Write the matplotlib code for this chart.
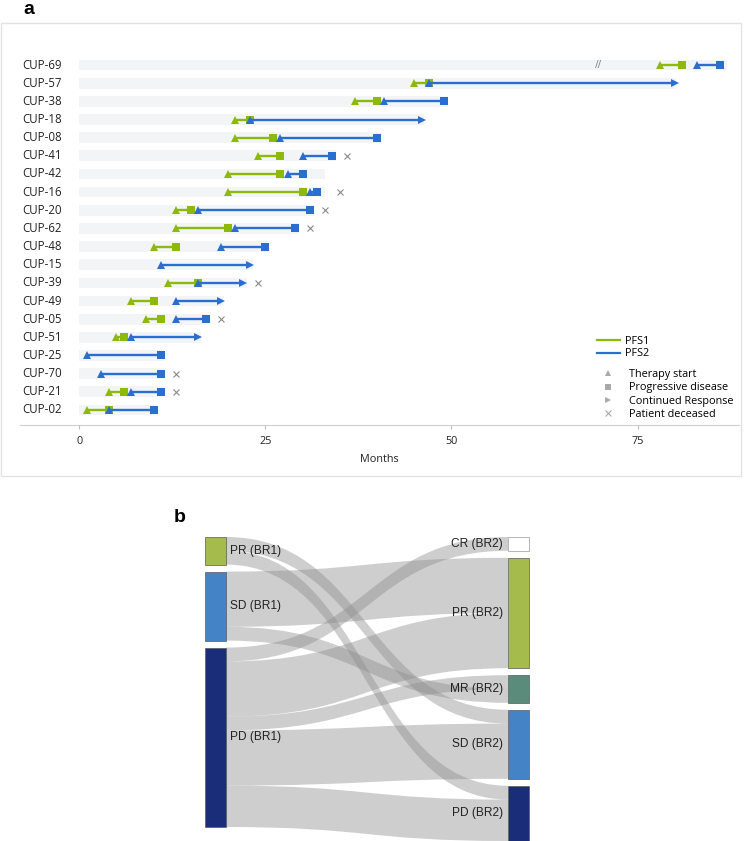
import numpy as np
import matplotlib
matplotlib.use("Agg")
import matplotlib.pyplot as plt
from matplotlib.patches import Rectangle, PathPatch
from matplotlib.path import Path
from matplotlib.lines import Line2D
import matplotlib.transforms as mtransforms

nan = np.nan
# ---------------- Panel a data ----------------
patients = ['CUP-69', 'CUP-57', 'CUP-38', 'CUP-18', 'CUP-08', 'CUP-41', 'CUP-42', 'CUP-16',
            'CUP-20', 'CUP-62', 'CUP-48', 'CUP-15', 'CUP-39', 'CUP-49', 'CUP-05', 'CUP-51',
            'CUP-25', 'CUP-70', 'CUP-21', 'CUP-02']
pfs1_start = [78, 45, 37, 21, 21, 24, 20, 20, 13, 13, 10, nan, 12, 7, 9, 5, nan, nan, 4, 1]
pfs1_end = [81, 47, 40, 23, 26, 27, 27, 30, 15, 20, 13, nan, 16, 10, 11, 6, nan, nan, 6, 4]
pfs2_start = [83, 47, 41, 23, 27, 30, 28, 31, 16, 21, 19, 11, 16, 13, 13, 7, 1, 3, 7, 4]
pfs2_end = [86, 80, 49, 46, 40, 34, 30, 32, 31, 29, 25, 23, 22, 19, 17, 16, 11, 11, 11, 10]
pfs2_ongoing = [False, True, False, True, False, False, False, False, False, False, False,
                True, True, True, False, True, False, False, False, False]
deceased = [nan, nan, nan, nan, nan, 36, nan, 35, 33, 31, nan, nan, 24, nan, 19, nan, nan, 13, 13, nan]
followup = [87, 80.2, 49.5, 46.3, 40.5, 34.5, 33, 33, 31.5, 29.5, 25.4, 23.4, 22.6, 19.4,
            17.5, 16.4, 11.4, 11.4, 11.4, 10.5]
xticks = [0, 25, 50, 75]
axis_break_at = 69.7

# ---------------- Panel b data ----------------
left_nodes = ['PR (BR1)', 'SD (BR1)', 'PD (BR1)']
right_nodes = ['CR (BR2)', 'PR (BR2)', 'MR (BR2)', 'SD (BR2)', 'PD (BR2)']
flow_src = ['PR (BR1)', 'PR (BR1)', 'SD (BR1)', 'SD (BR1)', 'PD (BR1)', 'PD (BR1)', 'PD (BR1)', 'PD (BR1)', 'PD (BR1)']
flow_tgt = ['SD (BR2)', 'PD (BR2)', 'PR (BR2)', 'MR (BR2)', 'CR (BR2)', 'PR (BR2)', 'MR (BR2)', 'SD (BR2)', 'PD (BR2)']
flow_val = [1, 1, 4, 1, 1, 4, 1, 4, 3]
target_stack_override = {'MR (BR2)': ['PD (BR1)', 'SD (BR1)']}

# ---------------- styles ----------------
GREEN = '#8dba0a'
BLUE = '#2a6fd0'
W, H = 749, 841
fig = plt.figure(figsize=(W / 100, H / 100), dpi=100)
FONT = ['Open Sans', 'DejaVu Sans']
FS = 7.8

# frame around panel a
fig.patches.append(Rectangle((1 / W, 1 - 476 / H), 740 / W, (476 - 23) / H,
                             transform=fig.transFigure, fill=False, ec='#e2e2e2', lw=1.0))
fig.text(23 / W, 1 - 10 / H, 'a', fontsize=14, fontweight='bold', va='center', ha='left',
         family=['Liberation Sans', 'DejaVu Sans'])
fig.text(174 / W, 1 - 517 / H, 'b', fontsize=14, fontweight='bold', va='center', ha='left',
         family=['Liberation Sans', 'DejaVu Sans'])

ax = fig.add_axes([20 / W, (H - 425) / H, 719 / W, (425 - 50) / H])
n = len(patients)
ax.set_xlim(-7.93, 88.6)
ax.set_ylim(-0.83, n - 1 + 0.83)
ypos = [n - 1 - i for i in range(n)]

ax.barh(ypos, followup, left=0, height=0.59, color='#f3f4f6', zorder=1)

for i, y in enumerate(ypos):
    if not np.isnan(pfs1_start[i]):
        ax.plot([pfs1_start[i], pfs1_end[i]], [y, y], color=GREEN, lw=1.7, zorder=3,
                solid_capstyle='butt')
        ax.plot([pfs1_start[i]], [y], marker='^', color=GREEN, ms=6, zorder=4, mew=0)
        ax.plot([pfs1_end[i]], [y], marker='s', color=GREEN, ms=5.3, zorder=4, mew=0)
    ax.plot([pfs2_start[i], pfs2_end[i]], [y, y], color=BLUE, lw=1.7, zorder=5,
            solid_capstyle='butt')
    ax.plot([pfs2_start[i]], [y], marker='^', color=BLUE, ms=6, zorder=6, mew=0)
    if pfs2_ongoing[i]:
        ax.plot([pfs2_end[i]], [y], marker='>', color=BLUE, ms=5.3, zorder=6, mew=0)
    else:
        ax.plot([pfs2_end[i]], [y], marker='s', color=BLUE, ms=5.3, zorder=6, mew=0)
    if not np.isnan(deceased[i]):
        ax.plot([deceased[i]], [y], marker='x', color='#8a8a8a', ms=5, mew=0.8, zorder=6)

ax.text(axis_break_at, ypos[0], '//', color='#777777', fontsize=7, ha='center', va='center',
        family=FONT, zorder=7)

trans = mtransforms.blended_transform_factory(ax.transAxes, ax.transData)
for name, y in zip(patients, ypos):
    ax.text(2.0 / 719, y, name, transform=trans, ha='left', va='center', fontsize=8.3,
            family=FONT, color='#222222')

ax.set_yticks([])
for s in ['top', 'right', 'left']:
    ax.spines[s].set_visible(False)
ax.spines['bottom'].set_color('#cfcfcf')
ax.set_xticks(xticks)
ax.set_xticklabels([str(t) for t in xticks], family=FONT, fontsize=FS, color='#222222')
ax.tick_params(axis='x', colors='#bbbbbb', length=3, width=0.8, pad=5, labelcolor='#222222')
ax.set_xlabel('Months', family=FONT, fontsize=FS, color='#222222', labelpad=5)

h1 = [Line2D([], [], color=GREEN, lw=1.6, label='PFS1'),
      Line2D([], [], color=BLUE, lw=1.6, label='PFS2')]
leg1 = ax.legend(handles=h1, loc='upper left', bbox_to_anchor=(597 / W, 1 - 336 / H),
                 bbox_transform=fig.transFigure, frameon=False, prop={'family': FONT, 'size': FS},
                 handlelength=2.1, handletextpad=0.5, labelspacing=0.12, borderpad=0,
                 borderaxespad=0)
ax.add_artist(leg1)
GR = '#a9a9a9'
h2 = [Line2D([], [], ls='none', marker='^', color=GR, ms=5, mew=0, label='Therapy start'),
      Line2D([], [], ls='none', marker='s', color=GR, ms=4.5, mew=0, label='Progressive disease'),
      Line2D([], [], ls='none', marker='>', color=GR, ms=4.5, mew=0, label='Continued Response'),
      Line2D([], [], ls='none', marker='x', color=GR, ms=5, mew=0.8, label='Patient deceased')]
ax.legend(handles=h2, loc='upper left', bbox_to_anchor=(603 / W, 1 - 369 / H),
          bbox_transform=fig.transFigure, frameon=False, prop={'family': FONT, 'size': FS},
          handlelength=1.0, handletextpad=1.4, labelspacing=0.22, borderpad=0, borderaxespad=0)

# ---------------- Panel b: Sankey ----------------
bx = fig.add_axes([200 / W, 0, 334 / W, (841 - 532) / H])
bx.set_xlim(200, 534)
bx.set_ylim(841, 532)
bx.axis('off')

unit = 13.8
gap = 7.0
top = 537.0
LX0, LX1 = 205, 226
RX0, RX1 = 508, 529
node_colors = {'PR (BR1)': '#a5bc4c', 'SD (BR1)': '#4583c7', 'PD (BR1)': '#1a2d78',
               'CR (BR2)': '#ffffff', 'PR (BR2)': '#a5bc4c', 'MR (BR2)': '#5b8c7b',
               'SD (BR2)': '#4583c7', 'PD (BR2)': '#1a2d78'}


def node_layout(nodes, is_src):
    pos = {}
    y = top
    for nd in nodes:
        tot = sum(v for s, t, v in zip(flow_src, flow_tgt, flow_val) if (s if is_src else t) == nd)
        pos[nd] = (y, y + tot * unit)
        y += tot * unit + gap
    return pos


lpos = node_layout(left_nodes, True)
rpos = node_layout(right_nodes, False)

src_span = {}
for nd in left_nodes:
    y = lpos[nd][0]
    idx = [k for k in range(len(flow_val)) if flow_src[k] == nd]
    idx.sort(key=lambda k: right_nodes.index(flow_tgt[k]))
    for k in idx:
        src_span[k] = (y, y + flow_val[k] * unit)
        y += flow_val[k] * unit
tgt_span = {}
for nd in right_nodes:
    y = rpos[nd][0]
    idx = [k for k in range(len(flow_val)) if flow_tgt[k] == nd]
    order = target_stack_override.get(nd, left_nodes)
    idx.sort(key=lambda k: order.index(flow_src[k]))
    for k in idx:
        tgt_span[k] = (y, y + flow_val[k] * unit)
        y += flow_val[k] * unit

for k in range(len(flow_val)):
    s0, s1 = src_span[k]
    t0, t1 = tgt_span[k]
    xm = (LX1 + RX0) / 2
    verts = [(LX1, s0), (xm, s0), (xm, t0), (RX0, t0), (RX0, t1), (xm, t1), (xm, s1), (LX1, s1), (LX1, s0)]
    codes = [Path.MOVETO, Path.CURVE4, Path.CURVE4, Path.CURVE4, Path.LINETO,
             Path.CURVE4, Path.CURVE4, Path.CURVE4, Path.CLOSEPOLY]
    bx.add_patch(PathPatch(Path(verts, codes), fc=(0.55, 0.55, 0.55), alpha=0.42, lw=0, zorder=1))

SFONT = ['Liberation Sans', 'DejaVu Sans']
for nd in left_nodes:
    y0, y1 = lpos[nd]
    bx.add_patch(Rectangle((LX0, y0), LX1 - LX0, y1 - y0, fc=node_colors[nd], ec='#5a5a5a', lw=0.5, zorder=2))
    bx.text(LX1 + 4, (y0 + y1) / 2, nd, ha='left', va='center', fontsize=8.6, family=SFONT,
            color='#222222', zorder=3)
for nd in right_nodes:
    y0, y1 = rpos[nd]
    ec = '#9a9a9a' if nd == 'CR (BR2)' else '#5a5a5a'
    bx.add_patch(Rectangle((RX0, y0), RX1 - RX0, y1 - y0, fc=node_colors[nd], ec=ec, lw=0.5, zorder=2))
    bx.text(RX0 - 5, (y0 + y1) / 2, nd, ha='right', va='center', fontsize=8.6, family=SFONT,
            color='#222222', zorder=3)

fig.savefig('out.png', dpi=100)
